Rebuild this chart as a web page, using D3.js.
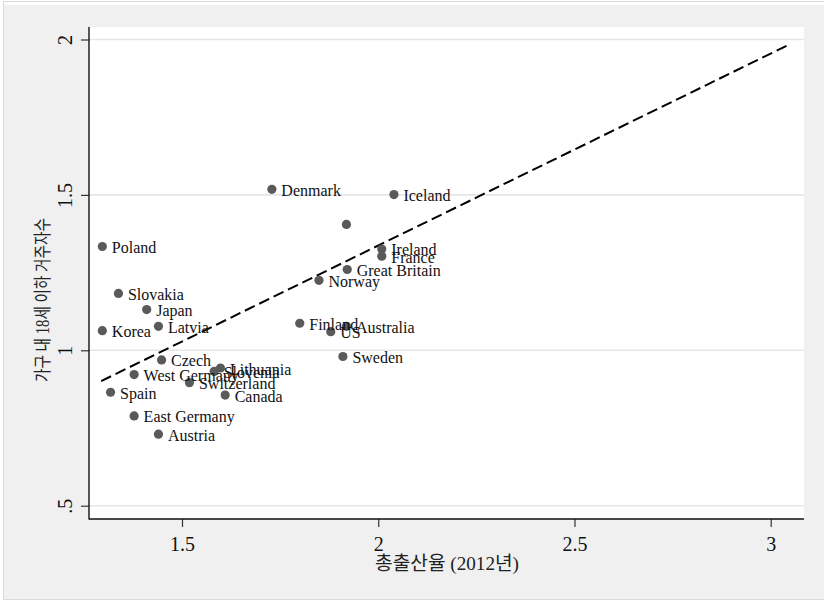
<!DOCTYPE html>
<html><head><meta charset="utf-8">
<script src="https://cdn.jsdelivr.net/npm/d3@7"></script>
<style>body{margin:0;background:#fff}svg{display:block}</style>
</head><body>
<svg id="chart" width="824" height="604"></svg>
<script>
const countries = ["Denmark","Iceland","","Ireland","France","Great Britain","Norway","Poland","Slovakia","Japan","Latvia","Korea","Finland","Australia","US","Sweden","Czech","West Germany","Lithuania","Slovenia","Switzerland","Canada","Spain","East Germany","Austria"];
const fertility = [1.729,2.040,1.919,2.009,2.009,1.921,1.849,1.297,1.338,1.410,1.440,1.297,1.800,1.919,1.879,1.910,1.448,1.378,1.598,1.582,1.519,1.610,1.318,1.378,1.440];
const children = [1.518,1.501,1.405,1.326,1.303,1.260,1.225,1.334,1.183,1.131,1.077,1.063,1.087,1.077,1.060,0.980,0.969,0.922,0.943,0.932,0.896,0.856,0.865,0.789,0.730];
const trendX = [1.294, 3.049];
const trendY = [0.901, 1.985];
const xTicks = [1.5, 2, 2.5, 3];
const xTickLabels = ["1.5","2","2.5","3"];
const yTicks = [0.5, 1, 1.5, 2];
const yTickLabels = [".5","1","1.5","2"];
const xTitle = "총출산율 (2012년)";
const yTitle = "가구 내 18세 이하 거주자수";

const svg = d3.select("#chart");
const L = 89, R = 804, T = 27, B = 519;
const x = d3.scaleLinear().domain([1.5, 3]).range([182, 770.7]);
const y = d3.scaleLinear().domain([0.5, 2]).range([505.7, 39.5]);
const serif = "'Liberation Serif','Times New Roman',serif";
const kfont = "'Liberation Serif','Noto Sans CJK KR',serif";

// outer frame
svg.append("rect").attr("x",3.5).attr("y",1.5).attr("width",830).attr("height",598)
  .attr("fill","#ffffff").attr("stroke","#dadada");
svg.append("rect").attr("x",4).attr("y",5).attr("width",830).attr("height",594)
  .attr("fill","#f0f0f0");
// plot region
svg.append("rect").attr("x",L).attr("y",T).attr("width",R-L).attr("height",B-T).attr("fill","#ffffff");

// gridlines
svg.append("g").selectAll("line").data(yTicks).join("line")
  .attr("x1",L).attr("x2",R).attr("y1",d=>y(d)).attr("y2",d=>y(d))
  .attr("stroke","#e6e6e6").attr("stroke-width",1.6);

// axes
const yAxis = d3.axisLeft(y).tickValues(yTicks).tickSize(8).tickFormat((d,i)=>yTickLabels[i]);
const gy = svg.append("g").attr("transform",`translate(${L},0)`).call(yAxis);
gy.select(".domain").remove();
gy.selectAll(".tick line").attr("stroke","#333").attr("stroke-width",1.2);
gy.selectAll(".tick text").attr("font-family",serif).attr("font-size",20).attr("fill","#111")
  .attr("text-anchor","middle").attr("dy",null).attr("x",null)
  .attr("transform","translate(-17,0) rotate(-90)");
svg.append("line").attr("x1",L).attr("x2",L).attr("y1",T).attr("y2",B+0.5).attr("stroke","#111").attr("stroke-width",1.4);

const xAxis = d3.axisBottom(x).tickValues(xTicks).tickSize(8).tickFormat((d,i)=>xTickLabels[i]);
const gx = svg.append("g").attr("transform",`translate(0,${B})`).call(xAxis);
gx.select(".domain").remove();
gx.selectAll(".tick line").attr("stroke","#333").attr("stroke-width",1.2);
gx.selectAll(".tick text").attr("font-family",serif).attr("font-size",20).attr("fill","#111")
  .attr("dy",null).attr("y",32);
svg.append("line").attr("x1",L).attr("x2",R).attr("y1",B).attr("y2",B).attr("stroke","#111").attr("stroke-width",1.4);

// axis titles
svg.append("text").attr("x",447).attr("y",570).attr("text-anchor","middle")
  .attr("font-family",kfont).attr("font-size",19).attr("fill","#222")
  .attr("textLength",144).attr("lengthAdjust","spacingAndGlyphs").text(xTitle);
svg.append("text").attr("transform",`translate(49,300) rotate(-90)`).attr("text-anchor","middle")
  .attr("font-family",kfont).attr("font-size",18).attr("fill","#222")
  .attr("textLength",164).attr("lengthAdjust","spacingAndGlyphs").text(yTitle);

// trend line
const line = d3.line().x(d=>x(d[0])).y(d=>y(d[1]));
svg.append("path").datum(trendX.map((v,i)=>[v,trendY[i]])).attr("d",line)
  .attr("fill","none").attr("stroke","#000").attr("stroke-width",2).attr("stroke-dasharray","11,5");

// points
const data = countries.map((c,i)=>({c, fx:fertility[i], ch:children[i]}));
svg.append("g").selectAll("circle").data(data).join("circle")
  .attr("cx",d=>x(d.fx)).attr("cy",d=>y(d.ch)).attr("r",4.6).attr("fill","#5a5a5a");
svg.append("g").selectAll("text").data(data).join("text")
  .attr("x",d=>x(d.fx)+9.5).attr("y",d=>y(d.ch)+6.5)
  .attr("font-family",serif).attr("font-size",16).attr("fill","#111").text(d=>d.c);
</script>
</body></html>
